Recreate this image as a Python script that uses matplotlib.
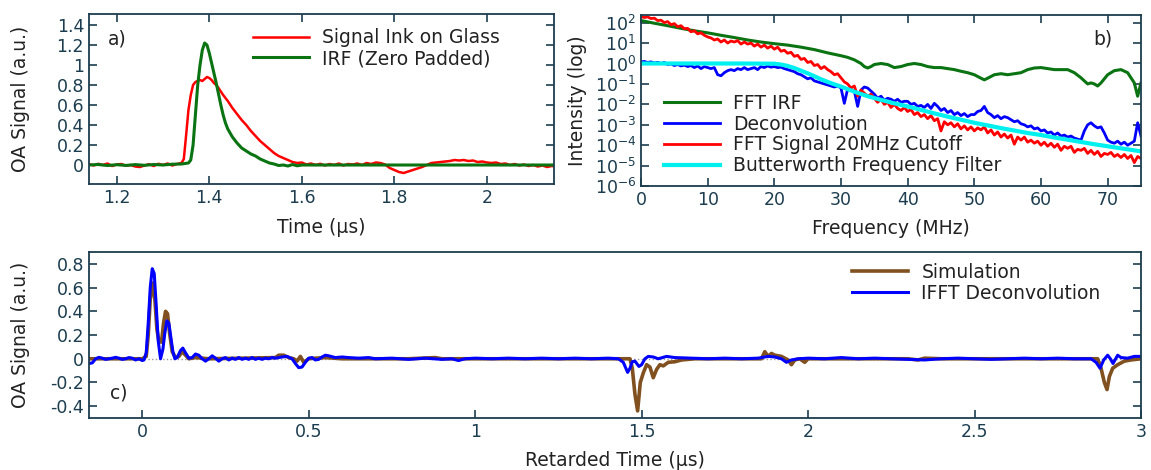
import matplotlib
matplotlib.use("Agg")
import matplotlib.pyplot as plt
import numpy as np
from matplotlib.ticker import FuncFormatter, LogLocator, NullLocator

# ---- panel a: time traces (us) ----
sig_t = [1.14, 1.15, 1.16, 1.17, 1.18, 1.19, 1.20, 1.21, 1.22, 1.23, 1.24, 1.25, 1.26, 1.27,
         1.28, 1.29, 1.30, 1.31, 1.32, 1.33, 1.34, 1.345, 1.35, 1.355, 1.36, 1.365, 1.37, 1.375,
         1.38, 1.385, 1.39, 1.395, 1.40, 1.405, 1.41, 1.415, 1.42, 1.43, 1.44, 1.45, 1.46, 1.47,
         1.48, 1.49, 1.50, 1.51, 1.52, 1.53, 1.54, 1.55, 1.56, 1.57, 1.58, 1.59, 1.60, 1.61,
         1.62, 1.63, 1.64, 1.65, 1.66, 1.67, 1.68, 1.69, 1.70, 1.71, 1.72, 1.73, 1.74, 1.75,
         1.76, 1.77, 1.78, 1.79, 1.80, 1.81, 1.82, 1.83, 1.84, 1.85, 1.86, 1.87, 1.88, 1.89,
         1.90, 1.91, 1.92, 1.93, 1.94, 1.95, 1.96, 1.97, 1.98, 1.99, 2.00, 2.01, 2.02, 2.03,
         2.04, 2.05, 2.06, 2.07, 2.08, 2.09, 2.10, 2.11, 2.12, 2.13, 2.14, 2.15]
sig_v = [0.01, -0.005, 0.012, 0.0, 0.015, -0.01, 0.005, 0.01, -0.008, 0.0, -0.015, -0.02, -0.005, 0.008,
         -0.01, 0.012, 0.0, 0.015, -0.005, 0.01, 0.02, 0.06, 0.3, 0.55, 0.7, 0.8, 0.83, 0.84,
         0.85, 0.84, 0.86, 0.88, 0.87, 0.85, 0.82, 0.8, 0.77, 0.7, 0.64, 0.57, 0.51, 0.45,
         0.4, 0.34, 0.29, 0.24, 0.2, 0.16, 0.12, 0.09, 0.07, 0.05, 0.03, 0.02, 0.025, 0.005,
         0.015, 0.0, 0.012, -0.005, 0.01, 0.0, 0.015, -0.005, 0.01, 0.005, 0.015, 0.0, 0.02, 0.01,
         0.025, 0.02, 0.005, -0.03, -0.05, -0.07, -0.08, -0.065, -0.05, -0.035, -0.02, 0.0, 0.02, 0.025,
         0.03, 0.035, 0.04, 0.05, 0.045, 0.05, 0.04, 0.045, 0.03, 0.035, 0.025, 0.02, 0.025, 0.01,
         0.015, 0.0, 0.01, -0.005, 0.005, -0.01, 0.0, -0.015, -0.005, -0.02, -0.01, -0.015]

irf_t = [1.14, 1.16, 1.18, 1.20, 1.22, 1.24, 1.26, 1.28, 1.30, 1.32, 1.34, 1.355, 1.36, 1.365,
         1.37, 1.375, 1.38, 1.385, 1.39, 1.395, 1.40, 1.405, 1.41, 1.415, 1.42, 1.425, 1.43, 1.435,
         1.44, 1.45, 1.46, 1.47, 1.48, 1.49, 1.50, 1.51, 1.52, 1.53, 1.54, 1.55, 1.56, 1.57,
         1.58, 1.59, 1.60, 1.61, 2.15]
irf_v = [0.0, 0.005, -0.005, 0.003, -0.004, 0.004, -0.003, 0.005, 0.0, 0.008, 0.01, 0.02, 0.05, 0.2,
         0.5, 0.8, 1.0, 1.15, 1.22, 1.2, 1.12, 1.02, 0.92, 0.82, 0.71, 0.6, 0.5, 0.42,
         0.36, 0.28, 0.22, 0.17, 0.14, 0.11, 0.09, 0.06, 0.04, 0.02, 0.01, -0.005, 0.0, -0.01,
         0.005, -0.008, 0.0, 0.0, 0.0]

# ---- panel b: spectra, values as log10 ----
freq = [0.0, 0.5, 1.0, 1.5, 2.0, 2.5, 3.0, 3.5, 4.0, 4.5, 5.0, 5.5, 6.0, 6.5, 7.0, 7.5, 8.0, 8.5,
        9.0, 9.5, 10.0, 10.5, 11.0, 11.5, 12.0, 12.5, 13.0, 13.5, 14.0, 14.5, 15.0, 15.5, 16.0, 16.5,
        17.0, 17.5, 18.0, 18.5, 19.0, 19.5, 20.0, 20.5, 21.0, 21.5, 22.0, 22.5, 23.0, 23.5, 24.0, 24.5,
        25.0, 25.5, 26.0, 26.5, 27.0, 27.5, 28.0, 28.5, 29.0, 29.5, 30.0, 30.5, 31.0, 31.5, 32.0, 32.5,
        33.0, 33.5, 34.0, 34.5, 35.0, 35.5, 36.0, 36.5, 37.0, 37.5, 38.0, 38.5, 39.0, 39.5, 40.0, 40.5,
        41.0, 41.5, 42.0, 42.5, 43.0, 43.5, 44.0, 44.5, 45.0, 45.5, 46.0, 46.5, 47.0, 47.5, 48.0, 48.5,
        49.0, 49.5, 50.0, 50.5, 51.0, 51.5, 52.0, 52.5, 53.0, 53.5, 54.0, 54.5, 55.0, 55.5, 56.0, 56.5,
        57.0, 57.5, 58.0, 58.5, 59.0, 59.5, 60.0, 60.5, 61.0, 61.5, 62.0, 62.5, 63.0, 63.5, 64.0, 64.5,
        65.0, 65.5, 66.0, 66.5, 67.0, 67.5, 68.0, 68.5, 69.0, 69.5, 70.0, 70.5, 71.0, 71.5, 72.0, 72.5,
        73.0, 73.5, 74.0, 74.5, 75.0]
fft_sig_log = [2.3, 2.25, 2.28, 2.2, 2.22, 2.1, 2.12, 2.0, 2.05, 1.9, 1.95, 1.8, 1.85, 1.7, 1.72, 1.55, 1.6, 1.45,
               1.5, 1.38, 1.3, 1.25, 1.15, 1.2, 1.05, 1.15, 1.0, 1.1, 1.05, 1.12, 0.95, 1.05, 0.95, 1.0,
               0.85, 0.95, 0.8, 0.9, 0.75, 0.85, 0.7, 0.8, 0.6, 0.65, 0.5, 0.55, 0.35, 0.4, 0.2, 0.25,
               0.05, 0.1, -0.1, -0.05, -0.25, -0.15, -0.3, -0.4, -0.55, -0.5, -0.7, -0.9, -1.0, -1.2, -1.1, -1.6,
               -1.3, -1.45, -1.6, -1.5, -1.7, -1.9, -1.75, -2.0, -1.9, -2.15, -2.0, -2.2, -2.3, -2.15, -2.35, -2.25,
               -2.5, -2.4, -2.6, -2.5, -2.7, -2.55, -2.8, -2.7, -3.3, -2.85, -3.0, -2.9, -3.1, -2.95, -3.2, -3.05,
               -3.25, -3.1, -3.3, -3.15, -3.25, -3.1, -3.4, -3.25, -3.5, -3.35, -3.6, -3.45, -3.65, -3.5, -3.95, -3.6,
               -3.75, -3.6, -3.85, -3.75, -3.9, -3.8, -4.0, -3.85, -4.05, -3.9, -4.1, -3.95, -4.25, -4.05, -4.15, -4.05,
               -4.35, -4.2, -4.25, -4.15, -4.4, -4.25, -4.45, -4.3, -4.55, -4.4, -4.45, -4.35, -4.55, -4.45, -4.6, -4.45,
               -4.65, -4.5, -4.85, -4.55, -4.65]
deconv_log = [0.08, 0.1, 0.05, 0.08, 0.02, 0.06, 0.0, 0.05, -0.05, -0.02, -0.1, -0.05, -0.12, -0.08, -0.15, -0.1, -0.2, -0.12,
              -0.25, -0.15, -0.2, -0.25, -0.2, -0.55, -0.6, -0.45, -0.35, -0.3, -0.35, -0.25, -0.3, -0.2, -0.3, -0.25,
              -0.2, -0.3, -0.15, -0.2, -0.12, -0.18, -0.15, -0.2, -0.18, -0.25, -0.3, -0.35, -0.4, -0.5, -0.55, -0.65,
              -0.75, -0.7, -0.85, -0.9, -0.95, -1.0, -1.05, -1.1, -1.15, -1.1, -1.2, -1.95, -1.25, -1.3, -1.35, -2.1,
              -1.3, -1.15, -1.2, -1.35, -1.5, -1.7, -1.6, -1.8, -1.7, -1.75, -1.85, -1.75, -1.9, -1.85, -1.85, -2.0,
              -1.95, -2.1, -2.05, -2.15, -2.0, -2.2, -1.95, -2.1, -2.3, -2.2, -2.4, -2.3, -2.5, -2.4, -2.55, -2.45,
              -2.6, -2.5, -2.5, -2.35, -2.3, -2.1, -2.4, -2.5, -2.65, -2.55, -2.7, -2.6, -2.65, -2.75, -2.85, -2.8,
              -2.95, -3.0, -3.1, -3.05, -3.2, -3.15, -3.3, -3.25, -3.4, -3.35, -3.5, -3.4, -3.55, -3.5, -3.6, -3.55,
              -3.65, -3.7, -3.75, -3.3, -3.0, -2.9, -3.05, -3.15, -3.1, -3.4, -3.75, -3.85, -3.9, -3.8, -3.95, -3.85,
              -4.0, -3.9, -3.8, -2.9, -3.55]
irf_f = [0, 2, 4, 6, 8, 10, 12, 14, 16, 18, 20, 22, 24, 26, 28, 30, 31, 32, 33, 33.5, 34, 34.5, 35,
         36, 37, 38, 39, 40, 41, 42, 43, 44, 45, 46, 47, 48, 49, 50, 51, 51.5, 52, 53, 54, 55, 56, 57,
         58, 59, 60, 61, 62, 63, 64, 65, 66, 67, 67.5, 68, 68.5, 69, 70, 71, 72, 73, 74, 74.5, 75]
fft_irf_log = [2.1, 1.97, 1.85, 1.72, 1.6, 1.5, 1.38, 1.27, 1.15, 1.05, 0.97, 0.9, 0.8, 0.68, 0.52, 0.38, 0.3,
               0.18, 0.0, -0.15, -0.22, -0.15, -0.05, 0.0, -0.05, -0.2, -0.15, -0.05, 0.0, -0.05, -0.15, -0.2,
               -0.2, -0.25, -0.3, -0.38, -0.45, -0.55, -0.72, -0.8, -0.72, -0.55, -0.5, -0.55, -0.5, -0.45,
               -0.3, -0.22, -0.2, -0.25, -0.3, -0.3, -0.3, -0.45, -0.7, -1.0, -0.95, -1.0, -1.1, -0.95, -0.55,
               -0.35, -0.3, -0.45, -0.95, -1.6, -0.95]
bw_f = [0, 5, 10, 15, 20, 21, 22, 23, 24, 25, 26, 27, 28, 29, 30, 32, 34, 36, 38, 40, 42, 44, 46, 48,
        50, 52, 54, 56, 58, 60, 62, 64, 66, 68, 70, 72, 74, 75]
bw_log = [0.0, 0.0, 0.0, 0.0, -0.01, -0.05, -0.12, -0.22, -0.35, -0.48, -0.62, -0.77, -0.9, -1.02, -1.13,
          -1.38, -1.6, -1.78, -1.95, -2.1, -2.27, -2.44, -2.6, -2.75, -2.9, -3.03, -3.16, -3.28, -3.4,
          -3.5, -3.62, -3.73, -3.84, -3.95, -4.05, -4.15, -4.25, -4.3]

# ---- panel c: retarded time (us) ----
dec_t = [-0.16, -0.15, -0.14, -0.13, -0.12, -0.11, -0.10, -0.09, -0.08, -0.07, -0.06, -0.05, -0.04, -0.03,
         -0.02, -0.01, 0.0, 0.005, 0.012, 0.018, 0.024, 0.03, 0.036, 0.042, 0.048, 0.055, 0.062, 0.068,
         0.074, 0.08, 0.086, 0.092, 0.098, 0.105, 0.115, 0.122, 0.13, 0.14, 0.15, 0.16, 0.17, 0.18,
         0.19, 0.2, 0.21, 0.22, 0.23, 0.24, 0.25, 0.26, 0.27, 0.28, 0.29, 0.30, 0.31, 0.32, 0.33,
         0.34, 0.35, 0.36, 0.37, 0.38, 0.39, 0.40, 0.42, 0.435, 0.45, 0.46, 0.47, 0.48, 0.49, 0.5,
         0.51, 0.52, 0.53, 0.54, 0.55, 0.56, 0.58, 0.60, 0.62, 0.65, 0.68, 0.7, 0.75, 0.8, 0.85,
         0.9, 0.93, 0.95, 0.97, 1.0, 1.05, 1.1, 1.15, 1.2, 1.25, 1.3, 1.35, 1.4, 1.43, 1.445, 1.458,
         1.465, 1.472, 1.48, 1.492, 1.5, 1.51, 1.52, 1.535, 1.55, 1.575, 1.6, 1.65, 1.7, 1.75, 1.8,
         1.85, 1.88, 1.9, 1.92, 1.935, 1.95, 1.97, 2.0, 2.05, 2.1, 2.15, 2.2, 2.25, 2.3, 2.35, 2.4,
         2.45, 2.5, 2.55, 2.6, 2.65, 2.7, 2.75, 2.8, 2.85, 2.865, 2.877, 2.888, 2.9, 2.908, 2.916,
         2.924, 2.93, 2.94, 2.96, 2.98, 3.0]
dec_v = [-0.04, -0.035, 0.0, 0.012, 0.005, -0.005, 0.0, 0.005, 0.012, 0.005, -0.005, 0.0, 0.01, 0.005,
         -0.01, 0.0, -0.015, -0.01, 0.05, 0.3, 0.6, 0.76, 0.72, 0.45, 0.15, 0.0, 0.08, 0.22,
         0.32, 0.3, 0.18, 0.06, 0.0, 0.01, 0.07, 0.09, 0.05, 0.005, 0.01, 0.04, 0.03, 0.0,
         -0.02, 0.0, 0.025, 0.005, -0.02, 0.0, 0.01, -0.01, 0.005, -0.005, 0.01, -0.005, 0.005, -0.005, 0.01,
         -0.005, 0.005, -0.005, 0.005, 0.0, 0.01, 0.005, 0.015, 0.02, 0.0, -0.04, -0.075, -0.07, -0.03, 0.005,
         0.01, -0.01, -0.005, 0.015, 0.03, 0.025, 0.01, 0.015, 0.01, 0.005, 0.01, 0.0, 0.005, -0.005, 0.005,
         -0.005, 0.0, -0.015, 0.0, 0.005, 0.0, 0.005, 0.0, 0.005, 0.0, 0.005, 0.0, 0.005, 0.0, -0.03, -0.115,
         -0.08, -0.025, -0.02, -0.065, -0.05, 0.0, 0.02, 0.015, 0.0, 0.02, 0.01, 0.005, 0.0, 0.005, 0.0,
         0.005, 0.02, 0.015, 0.0, -0.03, -0.01, 0.0, 0.005, 0.0, 0.01, 0.0, 0.005, 0.0, -0.005, -0.01, 0.0,
         0.005, 0.0, -0.005, 0.0, 0.005, 0.0, 0.005, 0.0, 0.0, -0.03, -0.08, -0.01, 0.03, 0.0, -0.04,
         0.0, 0.03, 0.01, 0.005, 0.02, 0.02]
sim_t = [-0.16, -0.1, -0.05, 0.0, 0.012, 0.018, 0.024, 0.032, 0.038, 0.044, 0.05, 0.058, 0.064, 0.07,
         0.076, 0.082, 0.09, 0.1, 0.11, 0.12, 0.13, 0.14, 0.16, 0.2, 0.3, 0.4, 0.41, 0.425, 0.44,
         0.455, 0.465, 0.475, 0.485, 0.5, 0.52, 0.55, 0.6, 0.8, 0.88, 0.9, 1.2, 1.4, 1.465, 1.472,
         1.48, 1.488, 1.496, 1.505, 1.515, 1.525, 1.535, 1.545, 1.555, 1.565, 1.58, 1.6, 1.62, 1.66,
         1.86, 1.87, 1.88, 1.89, 1.9, 1.92, 1.94, 1.95, 1.96, 1.975, 1.99, 2.0, 2.3, 2.33, 2.35, 2.4,
         2.87, 2.88, 2.89, 2.898, 2.905, 2.915, 2.93, 2.95, 2.97, 3.0]
sim_v = [0.0, 0.0, 0.0, 0.0, 0.02, 0.2, 0.5, 0.64, 0.5, 0.25, 0.15, 0.14, 0.3, 0.4,
         0.38, 0.22, 0.06, 0.01, 0.02, 0.06, 0.03, 0.0, 0.01, 0.0, 0.005, 0.01, 0.03, 0.03, 0.01,
         0.0, -0.02, 0.02, -0.03, 0.0, 0.005, 0.01, 0.0, 0.0, 0.01, 0.0, 0.0, 0.0, 0.0, -0.08,
         -0.3, -0.44, -0.2, -0.12, -0.05, -0.07, -0.16, -0.09, -0.05, -0.06, -0.03, -0.025, -0.01, 0.0,
         0.0, 0.06, 0.02, 0.045, 0.03, 0.02, -0.01, -0.05, -0.01, 0.0, -0.03, 0.0, 0.0, -0.01, 0.005, 0.0,
         0.0, -0.08, -0.2, -0.26, -0.15, -0.08, -0.05, -0.02, -0.01, 0.0]

spine_col = "#1c3d4f"
label_col = "#222222"
plt.rcParams["font.family"] = "DejaVu Sans"
plt.rcParams["font.size"] = 13.5
plt.rcParams["axes.unicode_minus"] = False

fig = plt.figure(figsize=(11.51, 4.70), dpi=100)
ax_a = fig.add_axes([0.0773, 0.6085, 0.404, 0.3617])
ax_b = fig.add_axes([0.5569, 0.604, 0.4344, 0.364])
ax_c = fig.add_axes([0.0773, 0.1106, 0.914, 0.353])

fmt = FuncFormatter(lambda v, p: "%g" % v)
leg_kw = dict(frameon=False, handlelength=3, handletextpad=0.7, labelcolor=label_col,
              labelspacing=0.1, borderpad=0.3, borderaxespad=0.0)


def style(ax, top=True):
    for s in ax.spines.values():
        s.set_color(spine_col)
        s.set_linewidth(1.3)
    ax.tick_params(direction="in", length=6, width=1.2, color=spine_col,
                   labelcolor=spine_col, top=top, right=True, labelsize=12.5)
    ax.tick_params(which="minor", length=0)


# a)
ax_a.plot(sig_t, sig_v, color="#ff0000", lw=1.8, label="Signal Ink on Glass")
ax_a.plot(irf_t, irf_v, color="#0a7312", lw=2.2, label="IRF (Zero Padded)")
ax_a.set_xlim(1.14, 2.145)
ax_a.set_ylim(-0.19, 1.51)
ax_a.set_xticks([1.2, 1.4, 1.6, 1.8, 2.0])
ax_a.set_yticks([0, 0.2, 0.4, 0.6, 0.8, 1.0, 1.2, 1.4])
ax_a.xaxis.set_major_formatter(fmt)
ax_a.yaxis.set_major_formatter(fmt)
ax_a.set_xlabel("Time (µs)", color=label_col)
ax_a.set_ylabel("OA Signal (a.u.)", color=label_col)
ax_a.xaxis.set_label_coords(0.5, -0.2)
ax_a.yaxis.set_label_coords(-0.127, 0.5)
ax_a.text(0.04, 0.82, "a)", transform=ax_a.transAxes, color=label_col)
ax_a.legend(loc="upper left", bbox_to_anchor=(0.34, 0.95), **leg_kw)
style(ax_a)

# b)
ax_b.plot(irf_f, 10 ** np.array(fft_irf_log), color="#0a7312", lw=2.2, label="FFT IRF")
ax_b.plot(freq, 10 ** np.array(deconv_log), color="#0000ff", lw=2.0, label="Deconvolution")
ax_b.plot(freq, 10 ** np.array(fft_sig_log), color="#ff0000", lw=2.0, label="FFT Signal 20MHz Cutoff")
ax_b.plot(bw_f, 10 ** np.array(bw_log), color="#00f0f0", lw=3.0, label="Butterworth Frequency Filter")
ax_b.set_yscale("log")
ax_b.set_xlim(0, 75)
ax_b.set_ylim(1e-6, 235)
ax_b.set_xticks([0, 10, 20, 30, 40, 50, 60, 70])
ax_b.yaxis.set_major_locator(LogLocator(base=10, numticks=12))
ax_b.yaxis.set_minor_locator(NullLocator())
ax_b.set_xlabel("Frequency (MHz)", color=label_col)
ax_b.set_ylabel("Intensity (log)", color=label_col)
ax_b.xaxis.set_label_coords(0.5, -0.19)
ax_b.yaxis.set_label_coords(-0.108, 0.5)
ax_b.text(0.904, 0.825, "b)", transform=ax_b.transAxes, color=label_col)
ax_b.legend(loc="lower left", bbox_to_anchor=(0.035, 0.03), **leg_kw)
style(ax_b)

# c)
ax_c.axhline(0, color="#999999", lw=1.0, ls=":", zorder=0)
ax_c.plot(sim_t, sim_v, color="#80501f", lw=2.6, label="Simulation")
ax_c.plot(dec_t, dec_v, color="#0000ff", lw=2.2, label="IFFT Deconvolution")
ax_c.set_xlim(-0.16, 3.0)
ax_c.set_ylim(-0.5, 0.9)
ax_c.set_xticks([0, 0.5, 1, 1.5, 2, 2.5, 3])
ax_c.set_yticks([-0.4, -0.2, 0, 0.2, 0.4, 0.6, 0.8])
ax_c.xaxis.set_major_formatter(fmt)
ax_c.yaxis.set_major_formatter(fmt)
ax_c.set_xlabel("Retarded Time (µs)", color=label_col)
ax_c.set_ylabel("OA Signal (a.u.)", color=label_col)
ax_c.xaxis.set_label_coords(0.5, -0.2)
ax_c.yaxis.set_label_coords(-0.056, 0.5)
ax_c.text(0.02, 0.12, "c)", transform=ax_c.transAxes, color=label_col)
ax_c.legend(loc="upper left", bbox_to_anchor=(0.72, 0.97), **leg_kw)
style(ax_c, top=False)

fig.savefig("out.png", dpi=100)
